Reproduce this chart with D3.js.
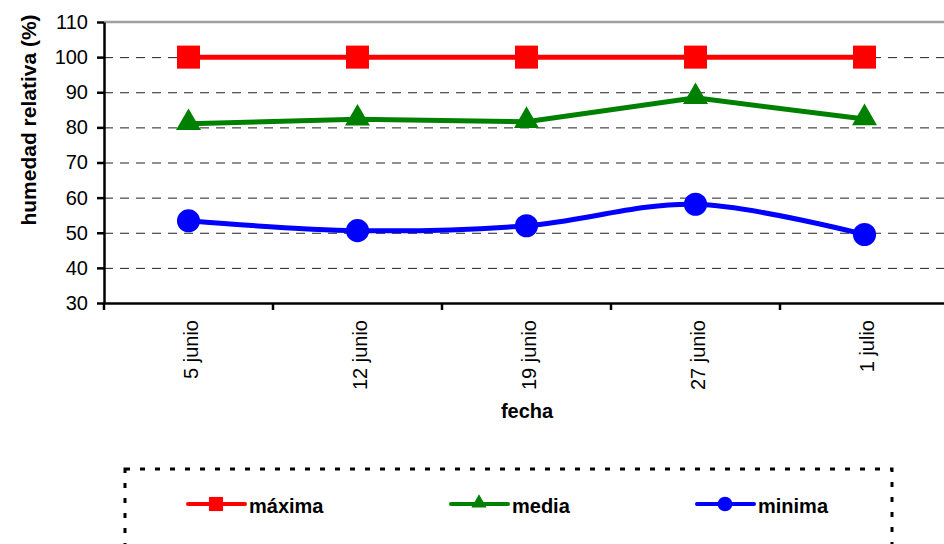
<!DOCTYPE html>
<meta charset="utf-8">
<style>
body { margin: 0; background: #fff; }
text { font-family: "Liberation Sans", Arial, sans-serif; fill: #000; }
.grid line { stroke: #222; stroke-width: 1px; stroke-dasharray: 9,7; }
.grid path { stroke-width: 0; }
.axis path, .axis line { stroke: #000; stroke-width: 2.5px; }
.axis text { font-size: 20px; }
.title { font-size: 21px; font-weight: bold; }
.legend-text { font-size: 20px; font-weight: bold; }
</style>
<body>
<script src="https://d3js.org/d3.v7.min.js"></script>
<script>

var fechas = ["5 junio", "12 junio", "19 junio", "27 junio", "1 julio"];
var maxima = [100, 100, 100, 100, 100];
var media  = [81.0, 82.3, 81.6, 88.4, 82.4];
var minima = [53.4, 50.6, 52.0, 58.1, 49.5];
var yTicks = [30, 40, 50, 60, 70, 80, 90, 100, 110];

var series = [
    {name: "máxima", values: maxima, color: "#ff0000", symbol: d3.symbolSquare, curve: d3.curveLinear},
    {name: "media",  values: media,  color: "#008000", symbol: d3.symbolTriangle, curve: d3.curveLinear},
    {name: "minima", values: minima, color: "#0000ff", symbol: d3.symbolCircle, curve: d3.curveCardinal.tension(0)}
];

var W = 944, H = 544;
var plotLeft = 104, plotRight = 949, plotTop = 22, plotBottom = 303;

var svg = d3.select("body").append("svg")
    .attr("width", W)
    .attr("height", H);

var x = d3.scaleBand().domain(fechas).range([plotLeft, plotRight]);
var y = d3.scaleLinear().domain([30, 110]).range([plotBottom, plotTop]);

// dashed gridlines
svg.append("g")
    .attr("class", "grid")
    .attr("transform", "translate(" + plotLeft + ",0)")
    .call(d3.axisLeft(y).tickValues(yTicks.slice(1, -1)).tickSize(-(W - plotLeft)).tickFormat(""));

// top border of plot area
svg.append("line")
    .attr("x1", plotLeft).attr("x2", W)
    .attr("y1", y(110)).attr("y2", y(110))
    .style("stroke", "#a0a0a0")
    .style("stroke-width", 2.5);

// y axis
svg.append("g")
    .attr("class", "axis")
    .attr("transform", "translate(" + plotLeft + ",0)")
    .call(d3.axisLeft(y).tickValues(yTicks).tickSize(7).tickPadding(9).tickSizeOuter(0));

// x axis: labels rotated, ticks between categories
var xAxis = svg.append("g")
    .attr("class", "axis")
    .attr("transform", "translate(0," + plotBottom + ")")
    .call(d3.axisBottom(x).tickSize(0).tickSizeOuter(0));
xAxis.selectAll(".tick text")
    .attr("transform", "rotate(-90)")
    .attr("text-anchor", "end")
    .attr("x", -17)
    .attr("y", 0)
    .attr("dy", "0.45em");

xAxis.selectAll(".between")
    .data(d3.range(fechas.length))
    .enter().append("line")
    .attr("x1", function(i) { return x.range()[0] + i * x.step(); })
    .attr("x2", function(i) { return x.range()[0] + i * x.step(); })
    .attr("y1", 0)
    .attr("y2", 7)
    .style("stroke", "#000")
    .style("stroke-width", 2.5);

// axis titles
svg.append("text")
    .attr("class", "title")
    .attr("transform", "translate(36," + 120 + ") rotate(-90)")
    .attr("text-anchor", "middle")
    .text("humedad relativa (%)");

svg.append("text")
    .attr("class", "title")
    .attr("x", 527)
    .attr("y", 418)
    .attr("text-anchor", "middle")
    .style("font-size", "20px")
    .text("fecha");

// series
var cx = function(i) { return x(fechas[i]) + x.bandwidth() / 2; };

series.forEach(function(s) {
    var line = d3.line()
        .x(function(d, i) { return cx(i); })
        .y(function(d) { return y(d); })
        .curve(s.curve);

    svg.append("path")
        .datum(s.values)
        .attr("d", line)
        .style("fill", "none")
        .style("stroke", s.color)
        .style("stroke-width", 5);

    var sz = s.symbol === d3.symbolTriangle ? 270 : (s.symbol === d3.symbolSquare ? 530 : 420);
    svg.selectAll(null)
        .data(s.values)
        .enter().append("path")
        .attr("d", d3.symbol().type(s.symbol).size(sz))
        .attr("transform", function(d, i) {
            return "translate(" + cx(i) + "," + (y(d) + (s.symbol === d3.symbolTriangle ? -1 : 0)) + ")";
        })
        .style("fill", s.color);
});

// legend
var legend = svg.append("g");
legend.append("rect")
    .attr("x", 125).attr("y", 469)
    .attr("width", 767).attr("height", 120)
    .style("fill", "none")
    .style("stroke", "#000")
    .style("stroke-width", 3)
    .style("stroke-dasharray", "5,10");

var legendX = [188, 451, 697];
series.forEach(function(s, i) {
    var g = legend.append("g").attr("transform", "translate(" + legendX[i] + ",504)");
    g.append("line")
        .attr("x1", 0).attr("x2", 57)
        .style("stroke", s.color)
        .style("stroke-width", 4)
        .style("stroke-linecap", "round");
    var sz = s.symbol === d3.symbolTriangle ? 100 : (s.symbol === d3.symbolSquare ? 200 : 170);
    g.append("path")
        .attr("d", d3.symbol().type(s.symbol).size(sz))
        .attr("transform", "translate(28," + (s.symbol === d3.symbolTriangle ? -1 : 0) + ")")
        .style("fill", s.color);
    g.append("text")
        .attr("class", "legend-text")
        .attr("x", 61)
        .attr("y", 9)
        .text(s.name);
});

</script>
</body>
